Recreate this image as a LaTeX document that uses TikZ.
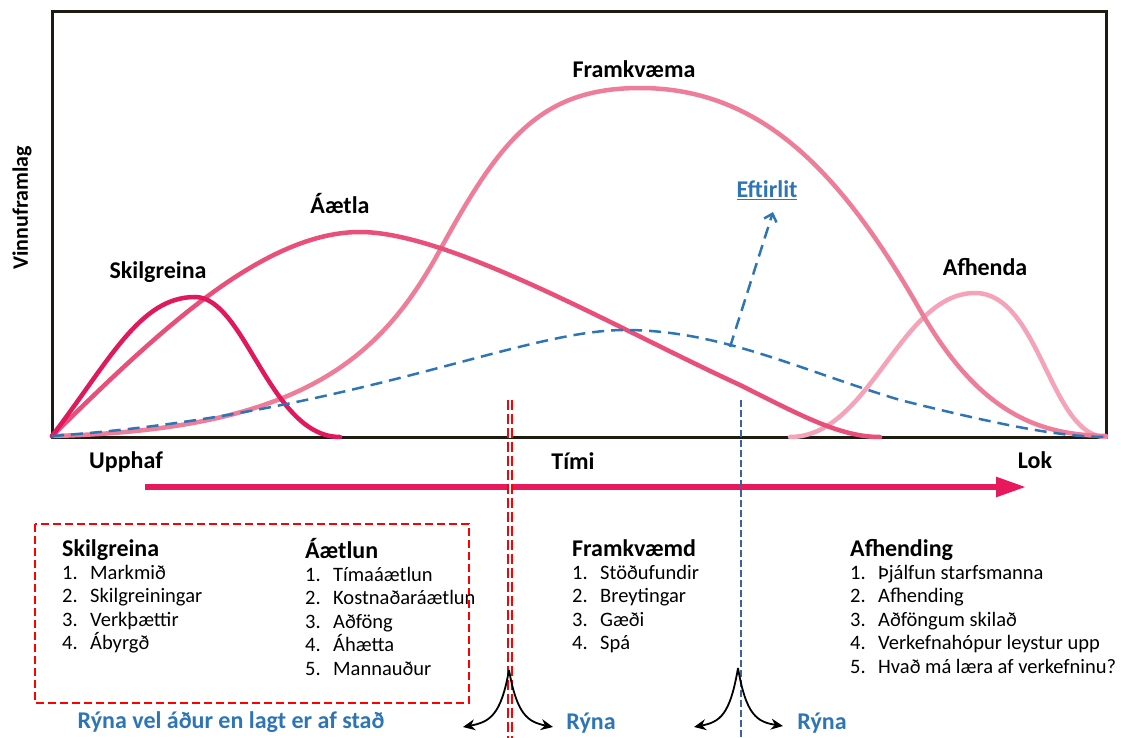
\documentclass[tikz,border=0pt]{standalone}
\usepackage{fontspec}
\setmainfont{Carlito}
\usetikzlibrary{arrows.meta,positioning}

\definecolor{framecol}{HTML}{1E1B12}
\definecolor{skilcol}{HTML}{E0195C}
\definecolor{aetlacol}{HTML}{E8507A}
\definecolor{framcol}{HTML}{EE7D9A}
\definecolor{afhcol}{HTML}{F4A3B8}
\definecolor{timecol}{HTML}{E8185C}
\definecolor{eftcol}{HTML}{2E75B6}
\definecolor{rynacol}{HTML}{2E75B6}
\definecolor{vlinecol}{HTML}{3C6496}

\newcommand{\nr}[1]{\makebox[28pt][l]{#1}}

\begin{document}
\begin{tikzpicture}[x=1pt, y=-1pt,
  curve/.style={line width=4.5pt, line cap=round},
  lbl/.style={font=\fontsize{24}{28}\selectfont\bfseries, inner sep=0pt},
  head/.style={font=\fontsize{24}{28}\selectfont\bfseries, anchor=base west, inner sep=0pt},
  lst/.style={font=\fontsize{20.5}{23.5}\selectfont, align=left, inner sep=0pt},
  ryna/.style={lbl, text=rynacol},
  eft/.style={draw=eftcol, line width=2.5pt, dash pattern=on 12pt off 7pt},
  fork/.style={draw=black, line width=1.8pt, -{Stealth[length=12pt, width=11pt]}}]

\useasboundingbox (0,0) rectangle (1121,738);

\draw [line width=3pt, draw=framecol] (52,12) rectangle (1106,437);

\node[lbl, font=\fontsize{22}{26}\selectfont\bfseries, rotate=90] (ylab) at (22,208) {Vinnuframlag};

% phase curves
\draw [curve, afhcol] (790,437) .. controls (870,437) and (900,293) .. (975,293)
  .. controls (1040,293) and (1050,437) .. (1106,437);
\draw [curve, framcol] (52,436) .. controls (300,430) and (380,360) .. (440,250)
  .. controls (500,140) and (540,88) .. (640,88)
  .. controls (760,88) and (840,170) .. (920,310)
  .. controls (980,415) and (1040,435) .. (1106,436);
\draw [curve, aetlacol] (52,436) .. controls (150,340) and (260,232) .. (360,232)
  .. controls (450,232) and (620,330) .. (740,385)
  .. controls (800,415) and (840,437) .. (880,437);
\draw [curve, skilcol] (52,436) .. controls (110,360) and (140,297) .. (195,297)
  .. controls (245,297) and (270,437) .. (340,437);
\draw [eft] (52,436) .. controls (350,415) and (520,330) .. (625,330)
  .. controls (720,330) and (800,370) .. (900,400)
  .. controls (1000,425) and (1060,437) .. (1106,437);

\node[lbl] (skil) at (158,272) {Skilgreina};
\node[lbl] (aetla) at (340,204) {Áætla};
\node[lbl] (fram) at (634,69) {Framkvæma};
\node[lbl] (afh) at (985,267) {Afhenda};

\coordinate (eftstart) at (730,347);
\node[ryna] (eftirlit) at (767,190) {\underline{Eftirlit}};
\draw [eft, -{Straight Barb[length=7pt, width=13pt]}] (eftstart) -- (773,212);

% time axis
\node[lbl] (upphaf) at (126,462) {Upphaf};
\node[lbl] (timi) at (573,461) {Tími};
\node[lbl] (lok) at (1035,460) {Lok};
\coordinate (tstart) at (145,487);
\coordinate (tend) at (1026,487);
\draw [line width=5.5pt, timecol, -{Triangle[length=30pt, width=19pt]}] (tstart) -- (tend);

% review lines
\coordinate (redtop) at (510,400);
\coordinate (redbot) at (510,738);
\coordinate (blutop) at (741,400);
\coordinate (blubot) at (741,738);
\draw [red, line width=1.8pt, double=white, double distance=1.8pt, dash pattern=on 10pt off 4pt] (redtop) -- (redbot);
\draw [vlinecol, line width=2pt, dash pattern=on 7pt off 3pt] (blutop) -- (blubot);

\draw [red, line width=2.5pt, dash pattern=on 8pt off 4pt] (35,524) rectangle (469,703);

% phase lists
\node[head] (skilH) at (62,556) {Skilgreina};
\node[lst, anchor=north west] (skilL) at (62,565) {\nr{1.}Markmið\\ \nr{2.}Skilgreiningar\\ \nr{3.}Verkþættir\\ \nr{4.}Ábyrgð};

\node[head] (aetlH) at (305,558) {Áætlun};
\node[lst, anchor=north west] (aetlL) at (305,567) {\nr{1.}Tímaáætlun\\ \nr{2.}Kostnaðaráætlun\\ \nr{3.}Aðföng\\ \nr{4.}Áhætta\\ \nr{5.}Mannauður};

\node[head] (framH) at (572,556) {Framkvæmd};
\node[lst, anchor=north west] (framL) at (572,565) {\nr{1.}Stöðufundir\\ \nr{2.}Breytingar\\ \nr{3.}Gæði\\ \nr{4.}Spá};

\node[head] (afhH) at (850,556) {Afhending};
\node[lst, anchor=north west] (afhL) at (850,565) {\nr{1.}Þjálfun starfsmanna\\ \nr{2.}Afhending\\ \nr{3.}Aðföngum skilað\\ \nr{4.}Verkefnahópur leystur upp\\ \nr{5.}Hvað má læra af verkefninu?};

% review arrows
\coordinate (redfork) at (509,670);
\coordinate (redleft) at (463,727);
\coordinate (redright) at (553,727);
\draw [fork] (redfork) .. controls (501,715) and (490,722) .. (redleft);
\draw [fork] (redfork) .. controls (517,715) and (528,722) .. (redright);

\coordinate (blufork) at (738,668);
\coordinate (bluleft) at (694,727);
\coordinate (bluright) at (783,726);
\draw [fork] (blufork) .. controls (730,715) and (720,722) .. (bluleft);
\draw [fork] (blufork) .. controls (746,715) and (757,722) .. (bluright);

\node[ryna] (rynavel) at (231,722) {Rýna vel áður en lagt er af stað};
\node[ryna] (ryna1) at (591,723) {Rýna};
\node[ryna] (ryna2) at (822,723) {Rýna};

\end{tikzpicture}
\end{document}
